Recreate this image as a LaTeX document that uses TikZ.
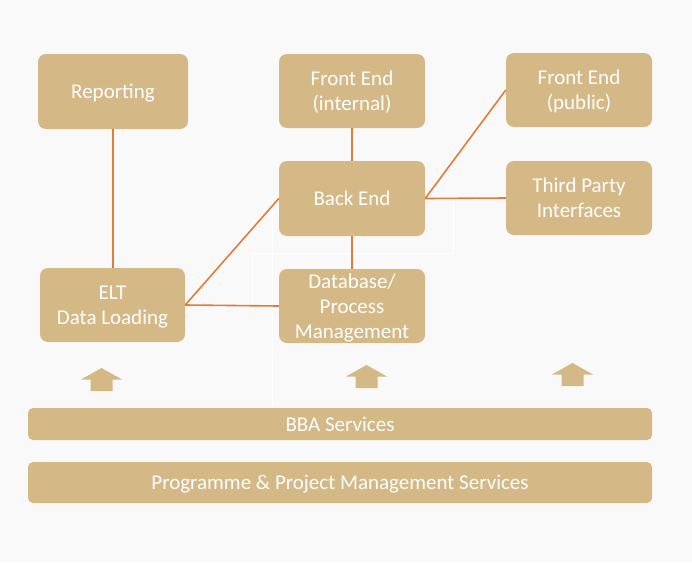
\documentclass[tikz,border=0pt]{standalone}
\usepackage{fontspec}
\setmainfont{Carlito}
\begin{document}
\begin{tikzpicture}[x=1pt,y=-1pt,
  box/.style={fill=boxfill, draw=none, rounded corners=8pt, text=white, align=center,
    inner sep=0pt, text depth=0pt, font=\fontsize{21}{25}\selectfont},
  link/.style={draw=linkorange, line width=1.6pt},
  faint/.style={draw=white, line width=0.9pt},
  uparrow/.pic={\fill[boxfill] (0,0) -- (20.5,11.5) -- (11,11.5) -- (11,23) -- (-11,23) -- (-11,11.5) -- (-20.5,11.5) -- cycle;}
]
\definecolor{boxfill}{RGB}{212,184,134}
\definecolor{linkorange}{RGB}{226,124,58}
\definecolor{bg}{RGB}{249,249,249}
\fill[bg] (0,0) rectangle (692,562);
\useasboundingbox (0,0) rectangle (692,562);
% faint white guide lines
\draw[faint] (272,200) -- (272,408);
\draw[faint] (252,307) -- (252,253) -- (453,253) -- (453,200);
% boxes
\node[box, minimum width=150pt, minimum height=75pt] (rep) at (113,91.5) {Reporting};
\node[box, minimum width=146pt, minimum height=74pt] (fei) at (352,91) {Front End\\(internal)};
\node[box, minimum width=146pt, minimum height=74pt] (fep) at (579,90) {Front End\\(public)};
\node[box, minimum width=146pt, minimum height=75pt] (be) at (352,198.5) {Back End};
\node[box, minimum width=146pt, minimum height=74pt] (tpi) at (579,198) {Third Party\\Interfaces};
\node[box, minimum width=145pt, minimum height=74pt] (elt) at (112.5,305) {ELT\\Data Loading};
\node[box, minimum width=146pt, minimum height=74pt] (db) at (352,306) {Database/\\Process\\Management};
\node[box, rounded corners=5pt, minimum width=624pt, minimum height=32pt] (bba) at (340,424) {BBA Services};
\node[box, rounded corners=5pt, minimum width=624pt, minimum height=41pt] (ppm) at (340,482.5) {Programme \& Project Management Services};
% connectors
\draw[link] (rep.south) -- (rep.south |- elt.north);
\draw[link] (fei.south) -- (be.north);
\draw[link] (be.south) -- (db.north);
\draw[link] (elt.east) -- (be.west);
\draw[link] (elt.east) -- (db.west);
\draw[link] (be.east) -- (fep.west);
\draw[link] (be.east) -- (tpi.west);
% up arrows
\pic at (101.5,368) {uparrow};
\pic at (366.5,365) {uparrow};
\pic at (572.5,363) {uparrow};
\end{tikzpicture}
\end{document}
